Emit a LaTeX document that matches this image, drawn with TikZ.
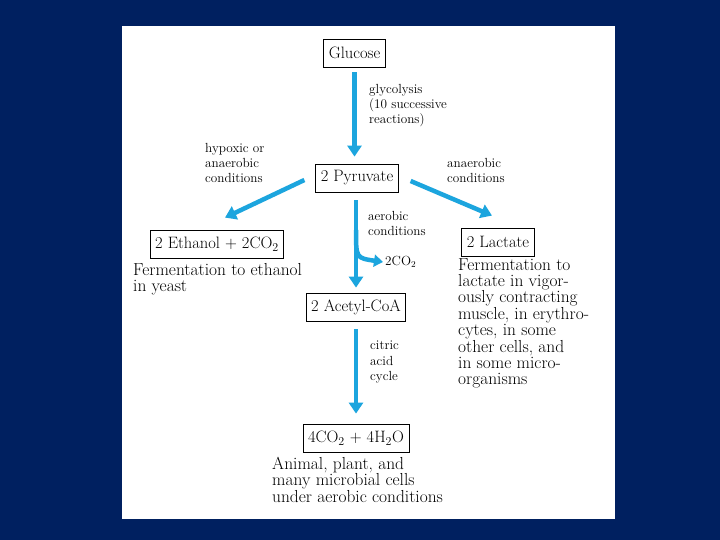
\documentclass[tikz,border=0pt]{standalone}
\usepackage{tikz}
\usetikzlibrary{arrows.meta,positioning,calc}
\definecolor{slideBlue}{RGB}{0,32,96}
\definecolor{pathCyan}{RGB}{28,165,222}

\begin{document}
\begin{tikzpicture}[
    x=1pt, y=-1pt,
    every node/.style={inner sep=0pt},
    box/.style={rectangle, draw=black, line width=0.8pt, fill=white,
        minimum height=28pt, inner xsep=5pt, font=\fontsize{16.5}{17}\selectfont},
    note/.style={align=left, anchor=north west, font=\fontsize{13.2}{15.2}\selectfont},
    caption/.style={align=left, anchor=north west, font=\fontsize{17.4}{16.4}\selectfont},
    arrow/.style={-{Triangle[width=14pt,length=11pt]}, line width=4.5pt, pathCyan},
    ]
    % Slide and page
    \fill[slideBlue] (0,0) rectangle (720,540);
    \fill[white] (122,26) rectangle (615,519);
    \useasboundingbox (0,0) rectangle (720,540);
    % Boxes
    \node[box] (glucose)  at (354.5,53) {Glucose};
    \node[box] (pyruvate) at (357,178)  {2 Pyruvate};
    \node[box] (ethanol)  at (217,244)  {2 Ethanol + 2CO$_2$};
    \node[box] (lactate)  at (498,242)  {2 Lactate};
    \node[box] (acetyl)   at (356,307)  {2 Acetyl-CoA};
    \node[box] (water)    at (356,438)  {4CO$_2$ + 4H$_2$O};
    % Arrows
    \draw[arrow, shorten <=5pt, shorten >=7pt] (glucose.south) -- (glucose.south |- pyruvate.north);
    \draw[arrow] ($(pyruvate.west)+(-11,2)$) -- ($(ethanol.north)+(8,-12)$);
    \draw[arrow] ($(pyruvate.east)+(12,3)$) -- ($(lactate.north)+(-6,-12)$);
    \draw[arrow, shorten <=8pt, shorten >=5pt] (pyruvate.south -| acetyl.north) -- (acetyl.north);
    \draw[arrow, shorten <=8pt, shorten >=10pt] (acetyl.south) -- (water.north);
    % CO2 release
    \node[font=\fontsize{13.2}{15}\selectfont, anchor=west] (co2) at (385,262) {2CO$_2$};
    \coordinate (split) at (356,230);
    \draw[arrow, -{Triangle[width=12pt,length=9pt]}] (split) .. controls (356,258) .. ([xshift=-2pt]co2.west);
    % Conditions
    \node[note] (glyco)   at (369,84)  {glycolysis\\(10 successive\\reactions)};
    \node[note] (hypoxic) at (205,143) {hypoxic or\\anaerobic\\conditions};
    \node[note] (anaer)   at (447,158) {anaerobic\\conditions};
    \node[note] (aerob)   at (368,211) {aerobic\\conditions};
    \node[note] (citric)  at (370,341) {citric\\acid\\cycle};
    % Captions
    \node[caption] (capEthanol) at (133,263) {Fermentation to ethanol\\in yeast};
    \node[caption] (capLactate) at (458,258) {Fermentation to\\lactate in vigor-\\ously contracting\\muscle, in erythro-\\cytes, in some\\other cells, and\\in some micro-\\organisms};
    \node[caption] (capWater)   at (272,457) {Animal, plant, and\\many microbial cells\\under aerobic conditions};
  \end{tikzpicture}
\end{document}
